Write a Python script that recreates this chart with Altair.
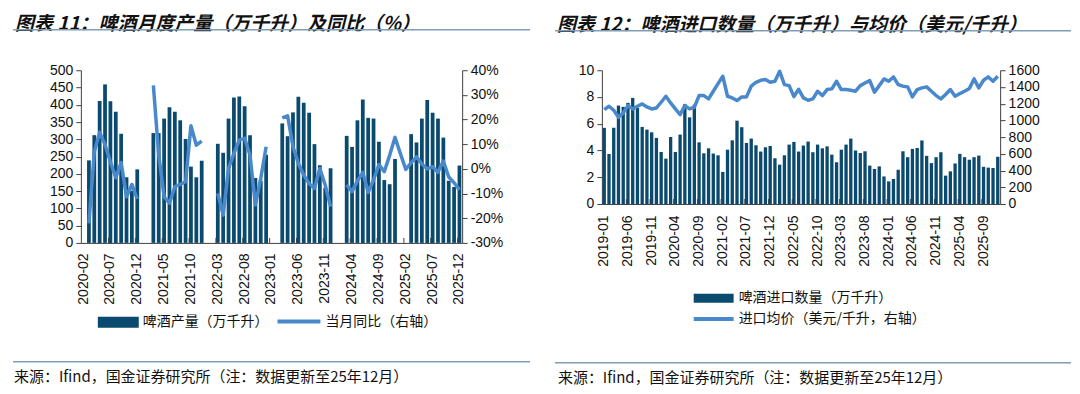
import altair as alt
import pandas as pd

CJK = "Noto Sans CJK SC"
LAT = "Liberation Sans"
BAR = "#0b4a6f"
LINE = "#4a88cc"
AX = "#404040"
DECO = "#7f9db6"

# ---------------- Panel 1: beer monthly production (10k kl) & YoY (%) ----------------
months1 = [f"{y}-{m:02d}" for y in range(2020, 2026) for m in range(1, 13)][1:]
prod1 = [None, 239, 312, 411, 459, 410, 380, 316, 190, 151, 213,
         None, None, 318, 318, 360, 393, 380, 355, 301, 221, 190, 238,
         None, None, 287, 261, 360, 421, 424, 396, 312, 188, 180, 255,
         None, None, 346, 309, 378, 423, 406, 377, 286, 225, 160, 216,
         None, None, 310, 278, 355, 415, 362, 360, 293, 182, 170, 243,
         None, None, 315, 291, 360, 414, 377, 360, 305, 180, 162, 224]
yoy1 = [None, -22.1, 6.9, 14.8, 9.9, 2.9, -3.6, 2.6, -11.3, -6.3, -12.2,
        None, None, 33.9, 5.6, -11.3, -13.9, -7.2, -6.3, -5.2, 17.5, 9.6, 11.3,
        None, None, -9.9, -18.7, 0.2, 6.3, 11.7, 12.4, 5.6, -14.6, -3.8, 9.0,
        None, None, 20.7, 21.5, 9.0, 2.2, -2.5, -5.9, -7.9, 0.2, -6.5, -15.3,
        None, None, -6.5, -9.2, -4.9, -1.4, -9.5, -4.5, 1.8, -1.1, 5.5, 12.8,
        6.2, -0.2, 2.5, 4.9, 2.0, 0.0, 0.9, -1.4, 3.2, -3.3, -5.6, -8.5]
labels1 = ["2020-02", "2020-07", "2020-12", "2021-05", "2021-10", "2022-03", "2022-08",
           "2023-01", "2023-06", "2023-11", "2024-04", "2024-09", "2025-02", "2025-07", "2025-12"]
left1_ticks = [0, 50, 100, 150, 200, 250, 300, 350, 400, 450, 500]
right1_ticks = [-30, -20, -10, 0, 10, 20, 30, 40]

# ---------------- Panel 2: beer imports (10k kl) & avg price (USD/kl) ----------------
months2 = [f"{y}-{m:02d}" for y in range(2019, 2026) for m in range(1, 13)]
vol2 = [5.69, 3.74, 5.70, 7.36, 7.26, 7.56, 7.93, 7.18, 5.76, 5.56,
        5.36, 4.94, 3.89, 3.39, 5.01, 3.89, 5.19, 7.48, 6.48, 7.43,
        4.61, 3.79, 4.16, 3.77, 3.64, 2.39, 4.06, 4.76, 6.23, 5.74,
        4.56, 4.89, 4.39, 3.92, 4.24, 4.34, 3.42, 2.94, 3.64, 4.44,
        4.64, 3.92, 4.37, 4.67, 3.87, 4.44, 4.16, 4.31, 3.69, 3.12,
        4.06, 4.44, 4.89, 4.00, 3.81, 3.94, 2.87, 2.62, 2.81, 2.06,
        1.69, 1.87, 2.56, 3.94, 3.50, 4.12, 4.19, 4.75, 3.60, 3.06,
        3.50, 3.87, 2.12, 2.44, 3.03, 3.75, 3.50, 3.31, 3.50, 3.62,
        2.78, 2.72, 2.69, 3.53]
price2 = [1129, 1169, 1121, 1037, 1089, 1177, 1137, 1169, 1197, 1161,
          1137, 1149, 1217, 1289, 1209, 1137, 1069, 1177, 1137, 1157,
          1297, 1297, 1257, 1349, 1440, 1528, 1289, 1269, 1237, 1281,
          1281, 1409, 1456, 1480, 1488, 1456, 1468, 1588, 1428, 1416,
          1285, 1372, 1269, 1241, 1257, 1349, 1297, 1369, 1377, 1468,
          1369, 1369, 1361, 1349, 1416, 1448, 1476, 1337, 1416, 1496,
          1468, 1520, 1428, 1409, 1401, 1281, 1369, 1389, 1401, 1349,
          1297, 1257, 1309, 1369, 1289, 1321, 1349, 1381, 1496, 1389,
          1480, 1520, 1468, 1528]
labels2 = ["2019-01", "2019-06", "2019-11", "2020-04", "2020-09", "2021-02", "2021-07",
           "2021-12", "2022-05", "2022-10", "2023-03", "2023-08", "2024-01", "2024-06",
           "2024-11", "2025-04", "2025-09"]
left2_ticks = [0, 2, 4, 6, 8, 10]
right2_ticks = [0, 200, 400, 600, 800, 1000, 1200, 1400, 1600]

title1 = "图表 11：啤酒月度产量（万千升）及同比（%）"
title2 = "图表 12：啤酒进口数量（万千升）与均价（美元/千升）"
leg1a, leg1b = "啤酒产量（万千升）", "当月同比（右轴）"
leg2a, leg2b = "啤酒进口数量（万千升）", "进口均价（美元/千升，右轴）"
source = "来源：Ifind，国金证券研究所（注：数据更新至25年12月）"

one = pd.DataFrame({"k": [0]})


def txt(x, y, s, size, weight="normal", style="normal", baseline="middle"):
    return alt.Chart(one).mark_text(align="left", baseline=baseline, fontSize=size,
                                    fontWeight=weight, fontStyle=style, font=CJK,
                                    color="#111111").encode(
        x=alt.value(x), y=alt.value(y), text=alt.value(s))


def hrule(x1, x2, y, color, width):
    return alt.Chart(one).mark_rule(color=color, strokeWidth=width).encode(
        x=alt.value(x1), x2=alt.value(x2), y=alt.value(y))


def swatch(x1, x2, y1, y2):
    return alt.Chart(one).mark_rect(color=BAR).encode(
        x=alt.value(x1), x2=alt.value(x2), y=alt.value(y1), y2=alt.value(y2))


def yaxis(orient, values, expr=None):
    kw = dict(orient=orient, values=values, title=None, grid=False, domainColor=AX,
              tickColor=AX, tickSize=5, labelFont=LAT, labelFontSize=14,
              labelColor="#111111", labelPadding=3, format="d")
    if expr:
        kw["labelExpr"] = expr
    return alt.Axis(**kw)


def xaxis(values, pad):
    return alt.Axis(values=values, labelAngle=-90, ticks=False, tickSize=0, labelPadding=pad,
                    title=None, domainColor=AX, labelFont=LAT, labelFontSize=14,
                    labelColor="#111111", labelOverlap=False, labelAlign="right",
                    labelBaseline="middle")


def panel(months, bars_v, line_v, labels, lt, rt, ldom, rdom, W, H, rexpr, xpad, deco):
    df = pd.DataFrame({"month": months, "bar": bars_v, "line": line_v})
    xs = alt.Scale(domain=months, paddingInner=0.3, paddingOuter=0.15)
    ax = xaxis(labels, xpad)
    x = alt.X("month:O", scale=xs, axis=ax)
    bars = alt.Chart(df).mark_bar(color=BAR).encode(
        x=x, y=alt.Y("bar:Q", scale=alt.Scale(domain=ldom, nice=False, zero=True),
                     axis=yaxis("left", lt)))
    line = alt.Chart(df).mark_line(color=LINE, strokeWidth=3.5, strokeJoin="round").encode(
        x=x, y=alt.Y("line:Q", scale=alt.Scale(domain=rdom, nice=False, zero=False),
                     axis=yaxis("right", rt, rexpr)))
    tdf = pd.DataFrame({"month": labels[1:]})
    ticks = alt.Chart(tdf).mark_rule(color=AX, strokeWidth=1).encode(
        x=alt.X("month:O", bandPosition=0, scale=xs, axis=ax),
        y=alt.value(H), y2=alt.value(H - 5))
    return alt.layer(bars, line, ticks, *deco).resolve_scale(y="independent").properties(
        width=W, height=H)


W1, H1 = 382, 173
deco1 = [
    txt(-66, -55, title1, 19, "bold", "italic", "top"),
    hrule(-68, 450, -40.5, DECO, 1.5),
    swatch(17, 58, 247, 258),
    txt(62, 252.5, leg1a, 14),
    hrule(197, 240, 251.7, LINE, 4),
    txt(245, 252.5, leg1b, 14),
    hrule(-68, 450, 292, DECO, 1.5),
    txt(-67, 307, source, 15),
]
p1 = panel(months1, prod1, yoy1, labels1, left1_ticks, right1_ticks, [0, 500], [-30, 40],
           W1, H1, "datum.value + '%'", 10, deco1)

W2, H2 = 399, 134
deco2 = [
    txt(-45, -54, title2, 19, "bold", "italic", "top"),
    hrule(-47, 470, -39.5, DECO, 1.5),
    swatch(92, 132, 224, 233),
    txt(137, 228.5, leg2a, 14),
    hrule(92, 132, 249.3, LINE, 4),
    txt(137, 249.5, leg2b, 14),
    hrule(-47, 470, 293, DECO, 1.5),
    txt(-44, 308, source, 15),
]
p2 = panel(months2, vol2, price2, labels2, left2_ticks, right2_ticks, [0, 10], [0, 1600],
           W2, H2, None, 11, deco2)

chart = alt.hconcat(p1, p2, spacing=23).configure_view(stroke=None).properties(
    padding={"left": 4, "top": 7, "right": 0, "bottom": 0})

chart.save("out.html", embed_options={"renderer": "svg", "actions": False})
